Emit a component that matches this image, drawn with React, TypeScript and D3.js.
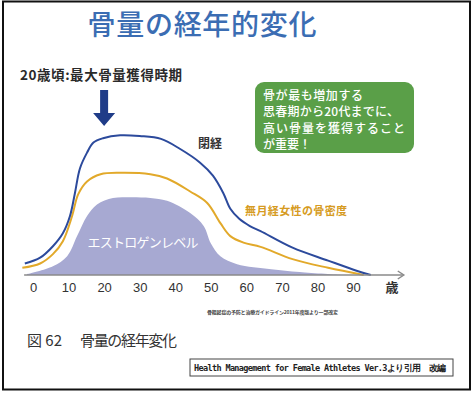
import { useEffect, useRef } from "react";
import * as d3 from "d3";

// ages (years) and relative levels (0-100)
const tickAges = [0, 10, 20, 30, 40, 50, 60, 70, 80, 90];

const boneAges = [-2.3, 2, 5.6, 8.4, 10.4, 11.8, 13.2, 15.2, 17, 19.7, 24.5, 30, 36, 41.4, 47, 50.6, 53.5, 55.5, 58, 61, 64, 73, 83, 91, 95];
const boneLevel = [8, 12, 20, 29, 41, 57, 74, 85, 92, 95, 97, 96.5, 94.5, 87.5, 78, 69, 57, 46, 39, 34, 30.5, 19, 10, 3, 0];

const amenAges = [-3, 2, 5.6, 8.4, 11, 12.7, 15.2, 19, 24.5, 33, 37.7, 44.2, 49, 52.7, 55.5, 59.2, 64, 73, 83, 93];
const amenLevel = [5, 8, 14.5, 23.5, 41, 56, 65, 70, 71, 70, 67, 58, 50, 36, 27, 22.5, 19.5, 11, 5, 0];

const estroAges = [-1.7, 5.6, 9.6, 12.4, 15.2, 18, 22.5, 27.3, 33, 37.7, 44.2, 48, 50, 52.7, 57.4, 67, 75, 86.5];
const estroLevel = [0.5, 6, 13, 27, 41, 49, 53.5, 54, 53.5, 51.5, 43, 34, 22, 13, 7.5, 4, 2, 0];

const noteLines = ["骨が最も増加する", "思春期から20代までに、", "高い骨量を獲得すること", "が重要！"];

const jp = "'Noto Sans CJK JP', 'Noto Sans', sans-serif";

export default function App() {
  const axisRef = useRef<SVGGElement>(null);

  const x = d3.scaleLinear().domain([0, 90]).range([33, 353]);
  const y = d3.scaleLinear().domain([0, 100]).range([275, 131]);

  const toPts = (a: number[], v: number[]) => a.map((d, i) => [d, v[i]] as [number, number]);

  const curve = d3.curveCatmullRom.alpha(0.5);

  const line = d3
    .line<[number, number]>()
    .x((d) => x(d[0]))
    .y((d) => y(d[1]))
    .curve(curve);

  const area = d3
    .area<[number, number]>()
    .x((d) => x(d[0]))
    .y0(y(0))
    .y1((d) => y(d[1]))
    .curve(curve);

  useEffect(() => {
    const g = d3.select(axisRef.current);
    g.selectAll("*").remove();
    g.call(
      d3
        .axisBottom(x)
        .tickValues(tickAges)
        .tickSize(0)
        .tickPadding(8)
        .tickFormat(d3.format("d"))
    );
    g.select(".domain").remove();
    g.selectAll("text")
      .attr("font-size", 13)
      .attr("font-family", "'Liberation Sans', Arial, sans-serif")
      .attr("fill", "#333");
  }, []);

  const ax0 = x(-2.5);
  const ax1 = x(104);
  const arrowX = x(20);

  return (
    <svg width={473} height={393} style={{ position: "absolute", left: 0, top: 0 }}>
      <rect x={0} y={0} width={473} height={393} fill="#fff" />
      <rect x={3} y={1.5} width={467} height={388} fill="none" stroke="#111" strokeWidth={2} />

      <text x={202} y={35} textAnchor="middle" fontSize={28} fontWeight={500} fill="#3b6db3" fontFamily={jp} textLength={229}>
        骨量の経年的変化
      </text>

      <text x={20} y={80} fontSize={13.5} fontWeight={700} fill="#2a2a2a" fontFamily={jp} textLength={162}>
        20歳頃:最大骨量獲得時期
      </text>
      <path
        d={`M${arrowX - 4},90 L${arrowX + 4},90 L${arrowX + 4},113 L${arrowX + 11},113 L${arrowX},126 L${arrowX - 11},113 L${arrowX - 4},113 Z`}
        fill="#1f3c88"
      />

      <rect x={255} y={82} width={159} height={71} rx={9} fill="#5a9f48" />
      {noteLines.map((t, i) => (
        <text key={i} x={263} y={100 + i * 16.3} fontSize={12} fontWeight={500} fill="#fff" fontFamily={jp}
          textLength={[100, 136, 142, 48][i]}>
          {t}
        </text>
      ))}

      <path d={area(toPts(estroAges, estroLevel)) || ""} fill="#a7a9d2" />
      <path d={line(toPts(amenAges, amenLevel)) || ""} fill="none" stroke="#e2a92a" strokeWidth={2} />
      <path d={line(toPts(boneAges, boneLevel)) || ""} fill="none" stroke="#2c4a9c" strokeWidth={2} />

      <text x={143} y={247} fontSize={13} fill="#fff" fontFamily={jp} textAnchor="middle" textLength={111}>
        エストロゲンレベル
      </text>
      <text x={198} y={148} fontSize={12} fontWeight={700} fill="#333" fontFamily={jp}>
        閉経
      </text>
      <text x={245} y={215} fontSize={11} fontWeight={700} fill="#d69b22" fontFamily={jp} textLength={102}>
        無月経女性の骨密度
      </text>

      <line x1={ax0} x2={ax1} y1={y(0)} y2={y(0)} stroke="#8a8a8a" strokeWidth={1.5} />
      <path d={`M${ax1 - 5},${y(0) - 4} L${ax1 + 1},${y(0)} L${ax1 - 5},${y(0) + 4}`} fill="none" stroke="#8a8a8a" strokeWidth={1.5} />
      <g ref={axisRef} transform={`translate(0,${y(0)})`} />
      <text x={x(101)} y={292} fontSize={13} fontWeight={700} fill="#333" fontFamily={jp} textAnchor="middle">
        歳
      </text>

      <text x={207} y={314} fontSize={5} fontWeight={700} fill="#444" fontFamily={jp} textLength={131}>
        骨粗鬆症の予防と治療ガイドライン2011年度版より一部改変
      </text>

      <text x={27} y={346} fontSize={15} fill="#333" fontFamily={jp}>
        図 62
      </text>
      <text x={80} y={346} fontSize={15} fill="#333" fontFamily={jp} textLength={97}>
        骨量の経年変化
      </text>

      <rect x={190} y={359} width={263} height={17} fill="none" stroke="#444" strokeWidth={1} />
      <text x={194} y={371} fontSize={8.5} fontWeight={700} fill="#222" fontFamily="'DejaVu Sans Mono', monospace" textLength={252}>
        Health Management for Female Athletes Ver.3より引用　改編
      </text>
    </svg>
  );
}
